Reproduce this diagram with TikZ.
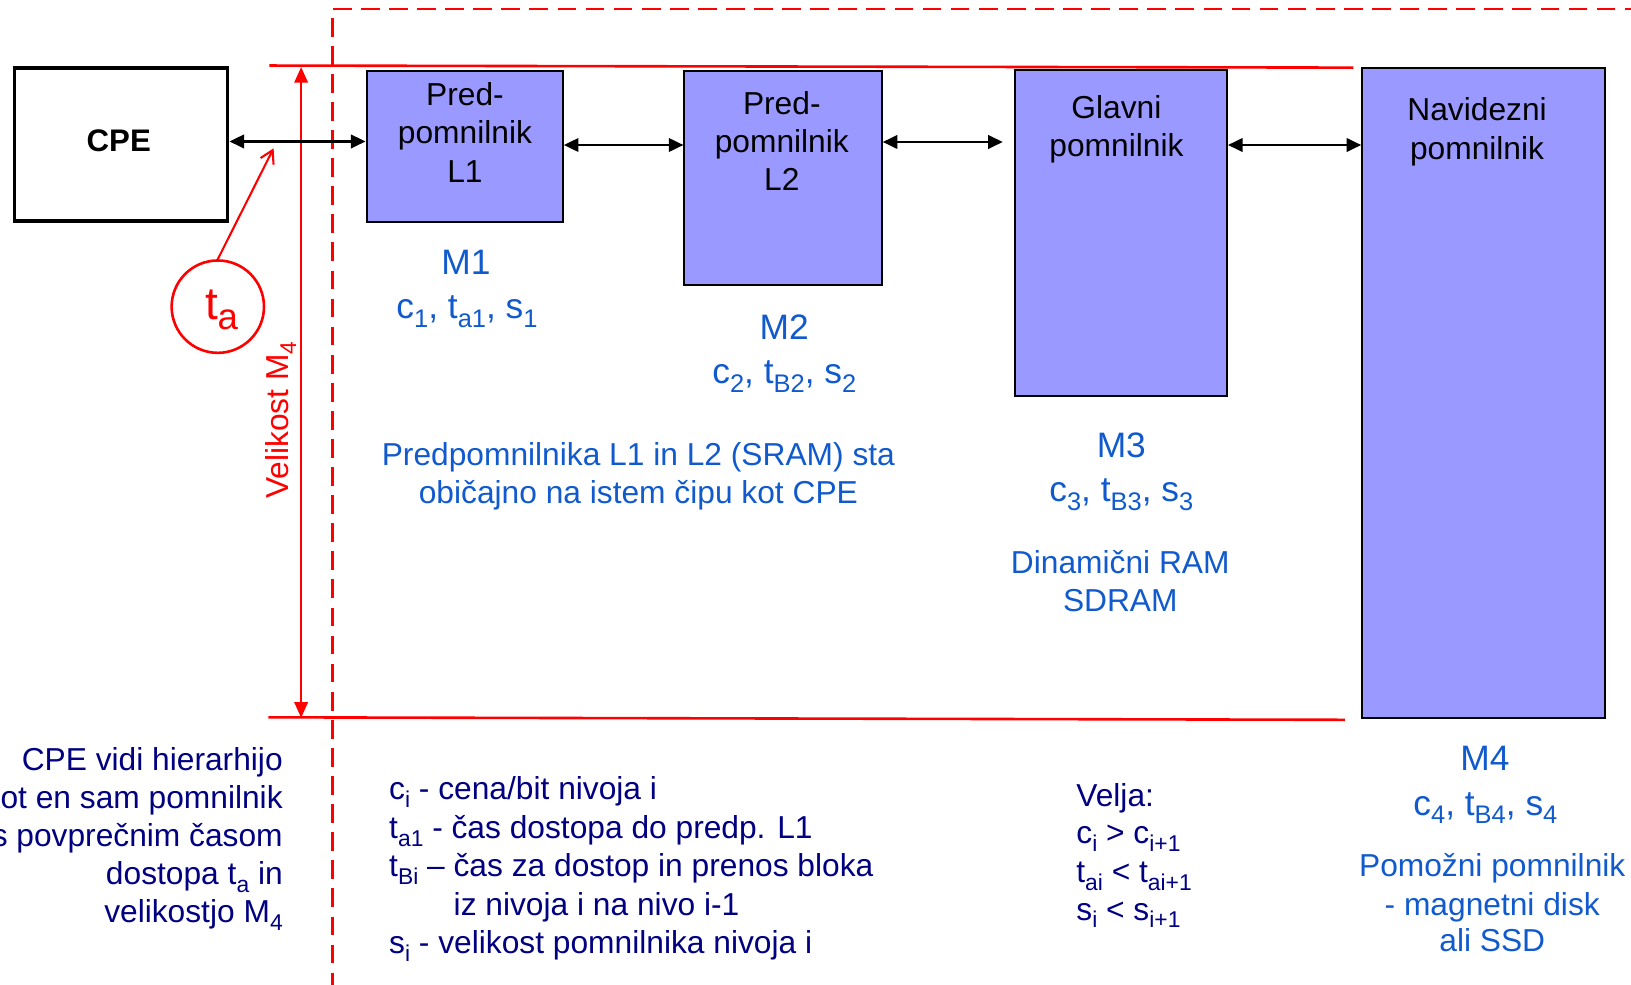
\documentclass[tikz,border=0pt]{standalone}
\usepackage{fontspec}
\setmainfont{Liberation Sans}
\usepackage{graphicx}
\usetikzlibrary{arrows.meta}
\definecolor{boxfill}{RGB}{153,153,255}
\definecolor{lblue}{RGB}{16,90,206}
\definecolor{navy}{RGB}{0,0,128}
\newcommand\sbs[1]{\raisebox{-0.25em}{\scalebox{0.72}{#1}}}
\begin{document}
\begin{tikzpicture}[x=1pt,y=-1pt,
  txt/.style={inner sep=0pt, font=\fontsize{30.5}{36.5}\selectfont},
  bl/.style={txt, text=lblue, anchor=base},
  big/.style={bl, font=\fontsize{34}{40}\selectfont},
  nv/.style={txt, text=navy},
  bx/.style={txt, anchor=base},
  membox/.style={draw=black, line width=2pt, fill=boxfill, anchor=north west, inner sep=0pt},
  biarrow/.style={line width=2pt, {Triangle[length=14pt,width=13pt]}-{Triangle[length=14pt,width=13pt]}},
  redln/.style={draw=red, line width=2.5pt},
]
\useasboundingbox (0,0) rectangle (1568,946);

% dashed frame
\coordinate (dtop) at (319.4,8.7);
\coordinate (dright) at (1580,8.7);
\coordinate (dbot) at (319.4,955);
\draw[red, line width=2.5pt, dash pattern=on 18pt off 9pt] (dright) -- (dtop) -- (dbot);

% red level lines
\coordinate (topL) at (259,63);
\coordinate (topR) at (1301,65);
\coordinate (botL) at (258,689.6);
\coordinate (botR) at (1293,692);
\draw[redln] (topL) -- (topR);
\draw[redln] (botL) -- (botR);

% size arrow
\coordinate (szT) at (289.5,64.5);
\coordinate (szB) at (289.5,690);
\draw[red, line width=1.8pt, {Triangle[length=15pt,width=13pt]}-{Triangle[length=15pt,width=13pt]}] (szT) -- (szB);
\node[txt, text=red, rotate=90, anchor=base] (vel) at (277,404) {Velikost M\sbs{4}};

% CPE
\node[draw, line width=3.5pt, minimum width=205pt, minimum height=147pt, anchor=north west, inner sep=0pt] (cpe) at (12.1,63.5) {};
\node[txt, font=\fontsize{30}{36}\selectfont\bfseries, anchor=base] (cpet) at (114.2,145.8) {CPE};

% memory boxes
\node[membox, minimum width=188.7pt, minimum height=144.9pt] (L1) at (351.4,67.3) {};
\node[membox, minimum width=189.7pt, minimum height=205.7pt] (L2) at (657,67.3) {};
\node[membox, minimum width=203.6pt, minimum height=313.7pt] (M3) at (975,66.3) {};
\node[membox, minimum width=233.4pt, minimum height=625pt] (M4) at (1308.6,64) {};

\node[bx] (l1a) at (447,101) {Pred-};
\node[bx] (l1b) at (447,137.7) {pomnilnik};
\node[bx] (l1c) at (447,175.4) {L1};
\node[bx] (l2a) at (751.6,109.6) {Pred-};
\node[bx] (l2b) at (751.6,146.8) {pomnilnik};
\node[bx] (l2c) at (751.6,183.3) {L2};
\node[bx] (m3a) at (1073.3,113.8) {Glavni};
\node[bx] (m3b) at (1073.3,150.6) {pomnilnik};
\node[bx] (m4a) at (1420,116) {Navidezni};
\node[bx] (m4b) at (1420,153.2) {pomnilnik};

% connectors
\draw[biarrow] (cpe.east |- 0,136) -- (L1.west |- 0,136);
\draw[biarrow] (L1.east |- 0,139.4) -- (L2.west |- 0,139.4);
\draw[biarrow, shorten >=11pt] (L2.east |- 0,136.5) -- (M3.west |- 0,136.5);
\draw[biarrow] (M3.east |- 0,139.4) -- (M4.west |- 0,139.4);

% t_a circle
\node[circle, draw=red, line width=2.5pt, minimum size=88.8pt, inner sep=0pt] (ta) at (209.4,294.8) {};
\node[txt, text=red, font=\fontsize{44}{50}\selectfont, anchor=base] (tat) at (213,307.6) {t\raisebox{-0.2em}{\scalebox{0.8}{a}}};
\coordinate (tap) at (263,142.6);
\draw[red, line width=2pt, -{Straight Barb[length=12pt,width=14pt]}] (ta.north) -- (tap);

% blue labels
\node[big] (m1) at (448,263.5) {M1};
\node[big] (m1p) at (449,306) {c\sbs{1}, t\sbs{a1}, s\sbs{1}};
\node[big] (m2) at (754,326) {M2};
\node[big] (m2p) at (754,368.5) {c\sbs{2}, t\sbs{B2}, s\sbs{2}};
\node[bl] (sram1) at (613.7,447.7) {Predpomnilnika L1 in L2 (SRAM) sta};
\node[bl] (sram2) at (613.7,483.7) {običajno na istem čipu kot CPE};
\node[big] (m3l) at (1078,440) {M3};
\node[big] (m3p) at (1078,482.5) {c\sbs{3}, t\sbs{B3}, s\sbs{3}};
\node[bl] (dr1) at (1077,551) {Dinamični RAM};
\node[bl] (dr2) at (1077,588) {SDRAM};
\node[big] (m4l) at (1427.6,741) {M4};
\node[big] (m4p) at (1428,783.6) {c\sbs{4}, t\sbs{B4}, s\sbs{4}};
\node[bl] (aux1) at (1434.6,843) {Pomožni pomnilnik};
\node[bl] (aux2) at (1434.6,880) {- magnetni disk};
\node[bl] (aux3) at (1434.6,915) {ali SSD};

% navy texts, left
\node[nv, anchor=base east] (n1) at (272,741) {CPE vidi hierarhijo};
\node[nv, anchor=base east] (n2) at (272,777) {kot en sam pomnilnik};
\node[nv, anchor=base east] (n3) at (272,814) {s povprečnim časom};
\node[nv, anchor=base east] (n4) at (272,850) {dostopa t\sbs{a} in};
\node[nv, anchor=base east] (n5) at (272,887) {velikostjo M\sbs{4}};

% navy texts, middle
\node[nv, anchor=base west] (d1) at (374,769) {c\sbs{i} - cena/bit nivoja i};
\node[nv, anchor=base west] (d2) at (374,806) {t\sbs{a1} - čas dostopa do predp. L1};
\node[nv, anchor=base west] (d3) at (374,843) {t\sbs{Bi} – čas za dostop in prenos bloka};
\node[nv, anchor=base west] (d4) at (436,880) {iz nivoja i na nivo i-1};
\node[nv, anchor=base west] (d5) at (374,917) {s\sbs{i} - velikost pomnilnika nivoja i};

% navy texts, right
\node[nv, anchor=base west] (v1) at (1034.6,775) {Velja:};
\node[nv, anchor=base west] (v2) at (1034.6,811) {c\sbs{i} > c\sbs{i+1}};
\node[nv, anchor=base west] (v3) at (1034.6,848) {t\sbs{ai} < t\sbs{ai+1}};
\node[nv, anchor=base west] (v4) at (1034.6,884.5) {s\sbs{i} < s\sbs{i+1}};
\end{tikzpicture}
\end{document}
